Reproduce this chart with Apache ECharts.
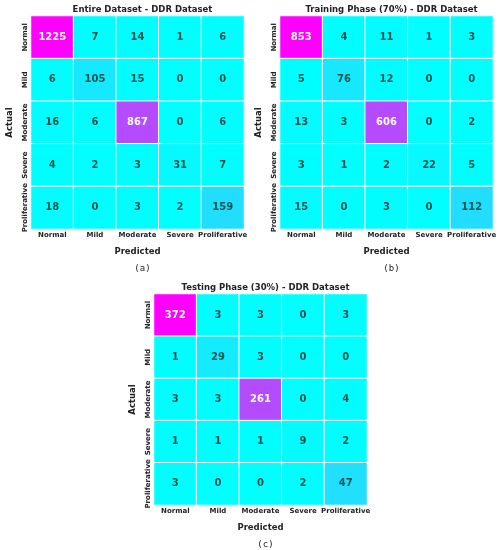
<!DOCTYPE html>
<html>
<head>
<meta charset="utf-8">
<script src="https://cdn.jsdelivr.net/npm/echarts@6/dist/echarts.min.js"></script>
<style>
  html, body { margin: 0; padding: 0; background: #fff; }
  #main { width: 500px; height: 550px; }
</style>
</head>
<body>
<div id="main"></div>
<script>
var classes = ['Normal', 'Mild', 'Moderate', 'Severe', 'Proliferative'];

var entireCM = [
  [1225, 7, 14, 1, 6],
  [6, 105, 15, 0, 0],
  [16, 6, 867, 0, 6],
  [4, 2, 3, 31, 7],
  [18, 0, 3, 2, 159]
];
var trainCM = [
  [853, 4, 11, 1, 3],
  [5, 76, 12, 0, 0],
  [13, 3, 606, 0, 2],
  [3, 1, 2, 22, 5],
  [15, 0, 3, 0, 112]
];
var testCM = [
  [372, 3, 3, 0, 3],
  [1, 29, 3, 0, 0],
  [3, 3, 261, 0, 4],
  [1, 1, 1, 9, 2],
  [3, 0, 0, 2, 47]
];

var titles = ['Entire Dataset - DDR Dataset', 'Training Phase (70%) - DDR Dataset', 'Testing Phase (30%) - DDR Dataset'];
var captions = ['(a)', '(b)', '(c)'];

var FONT = 'DejaVu Sans';
var panels = [
  { cm: entireCM, left: 31, top: 16, w: 213, h: 213 },
  { cm: trainCM, left: 280, top: 16, w: 213, h: 213 },
  { cm: testCM, left: 154, top: 294, w: 213, h: 211 }
];

function cellData(cm) {
  var max = 0;
  cm.forEach(function (r) { r.forEach(function (v) { if (v > max) max = v; }); });
  var out = [];
  cm.forEach(function (row, i) {
    row.forEach(function (v, j) {
      out.push({
        value: [j, i, v],
        label: { color: v > max * 0.5 ? '#ffffff' : '#07564e' }
      });
    });
  });
  return { data: out, max: max };
}

var grid = [], xAxis = [], yAxis = [], series = [], visualMap = [], title = [];

panels.forEach(function (p, k) {
  var d = cellData(p.cm);
  grid.push({ left: p.left, top: p.top, width: p.w, height: p.h, outerBoundsMode: 'none', containLabel: false });
  xAxis.push({
    type: 'category', gridIndex: k, data: classes,
    name: 'Predicted', nameLocation: 'middle', nameGap: 18,
    nameTextStyle: { fontFamily: FONT, fontWeight: 'bold', fontSize: 8.5, color: '#222' },
    axisLine: { show: false }, axisTick: { show: false }, splitLine: { show: false },
    axisLabel: { fontFamily: FONT, fontWeight: 'bold', fontSize: 7, color: '#222', margin: 3, interval: 0 }
  });
  yAxis.push({
    type: 'category', gridIndex: k, data: classes, inverse: true,
    name: 'Actual', nameLocation: 'middle', nameGap: 17, nameRotate: 90,
    nameTextStyle: { fontFamily: FONT, fontWeight: 'bold', fontSize: 8.5, color: '#222' },
    axisLine: { show: false }, axisTick: { show: false }, splitLine: { show: false },
    axisLabel: { fontFamily: FONT, fontWeight: 'bold', fontSize: 7, color: '#222', margin: 2, rotate: 90, interval: 0 }
  });
  visualMap.push({
    show: false, seriesIndex: k, min: 0, max: d.max, dimension: 2,
    inRange: { color: ['#00ffff', '#ff00ff'] }
  });
  series.push({
    type: 'heatmap', xAxisIndex: k, yAxisIndex: k, data: d.data,
    itemStyle: { borderColor: '#ffffff', borderWidth: 1 },
    label: { show: true, fontFamily: FONT, fontWeight: 'bold', fontSize: 10,
      formatter: function (pr) { return pr.value[2]; } },
    emphasis: { disabled: true }
  });
  title.push({
    text: titles[k], left: p.left + p.w / 2, top: p.top - 16, textAlign: 'center',
    textStyle: { fontFamily: FONT, fontWeight: 'bold', fontSize: 8.5, color: '#222' }
  });
  title.push({
    text: captions[k], left: p.left + p.w / 2, top: p.top + p.h + 30, textAlign: 'center',
    textStyle: { fontFamily: 'DejaVu Sans Mono', fontWeight: 'normal', fontSize: 9, color: '#222' }
  });
});

var chart = echarts.init(document.getElementById('main'), null, { renderer: 'canvas' });
chart.setOption({
  animation: false,
  backgroundColor: '#ffffff',
  title: title,
  grid: grid,
  xAxis: xAxis,
  yAxis: yAxis,
  visualMap: visualMap,
  series: series
});
</script>
</body>
</html>
